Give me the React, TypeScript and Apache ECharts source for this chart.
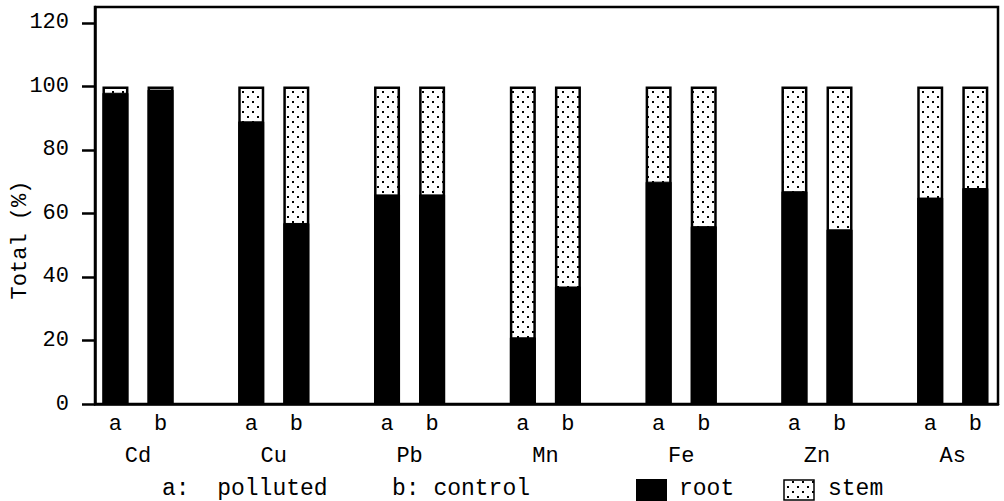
import React, { useEffect, useRef } from 'react';
import * as echarts from 'echarts';

const elements = ['Cd', 'Cu', 'Pb', 'Mn', 'Fe', 'Zn', 'As'];
const treatments = ['a', 'b'];
const rootPolluted = [98, 89, 66, 21, 70, 67, 65];
const rootControl = [99, 57, 66, 37, 56, 55, 68];
const stemPolluted = [2, 11, 34, 79, 30, 33, 35];
const stemControl = [1, 43, 34, 63, 44, 45, 32];
const yTicks = [0, 20, 40, 60, 80, 100, 120];

const FONT = "'Liberation Mono', 'Courier New', monospace";
const FS = 22;
const PAIR_OFFSET = 0.166;
const X_MIN = -0.3166;
const X_MAX = 6.333;

function makeDots(): string {
  const c = document.createElement('canvas');
  c.width = 10;
  c.height = 10;
  const ctx = c.getContext('2d')!;
  ctx.fillStyle = '#fff';
  ctx.fillRect(0, 0, 10, 10);
  ctx.fillStyle = '#000';
  ctx.fillRect(2, 1, 2, 2);
  ctx.fillRect(7, 6, 2, 2);
  return c.toDataURL();
}

export default function App() {
  const ref = useRef<HTMLDivElement>(null);
  useEffect(() => {
    if (!ref.current) return;
    const chart = echarts.init(ref.current, undefined, { renderer: 'svg' });
    const dots = { image: makeDots(), repeat: 'repeat', imageWidth: 10, imageHeight: 10 };

    const positions: number[] = [];
    const rootData: number[][] = [];
    const totalData: number[][] = [];
    elements.forEach((_, i) => {
      const xa = i - PAIR_OFFSET;
      const xb = i + PAIR_OFFSET;
      positions.push(xa, xb);
      rootData.push([xa, rootPolluted[i]], [xb, rootControl[i]]);
      // stem sits on top of root: drawn as the full root+stem bar behind the root bar
      totalData.push([xa, rootPolluted[i] + stemPolluted[i]], [xb, rootControl[i] + stemControl[i]]);
    });

    const option: any = {
      animation: false,
      backgroundColor: '#fff',
      grid: {
        left: 95, top: 7, right: 6, bottom: 97,
        show: true, borderColor: '#000', borderWidth: 2.5, backgroundColor: 'transparent',
      },
      xAxis: [
        {
          type: 'value', min: X_MIN, max: X_MAX, position: 'bottom',
          splitLine: { show: false },
          axisLine: { show: true, onZero: false, lineStyle: { color: '#000', width: 2.5 } },
          axisTick: { show: false },
          axisLabel: {
            customValues: positions,
            margin: 9,
            color: '#000', fontFamily: FONT, fontSize: FS,
            formatter: (v: number) => (v > Math.round(v) ? treatments[1] : treatments[0]),
          },
        },
        {
          type: 'value', min: X_MIN, max: X_MAX, position: 'bottom', offset: 34,
          splitLine: { show: false },
          axisLine: { show: false, onZero: false },
          axisTick: { show: false },
          axisLabel: {
            customValues: elements.map((_, i) => i),
            margin: 7,
            color: '#000', fontFamily: FONT, fontSize: FS,
            formatter: (v: number) => elements[Math.round(v)] ?? '',
          },
        },
      ],
      yAxis: {
        type: 'value', min: 0, max: 125,
        splitLine: { show: false },
        axisLine: { show: true, onZero: false, lineStyle: { color: '#000', width: 2.5 } },
        axisTick: { show: true, customValues: yTicks, length: 13, lineStyle: { color: '#000', width: 2.5 } },
        axisLabel: { customValues: yTicks, margin: 26, color: '#000', fontFamily: FONT, fontSize: FS },
      },
      series: [
        {
          name: 'stem', type: 'bar', barWidth: 26, barGap: '-100%',
          xAxisIndex: 0, z: 2,
          data: totalData,
          itemStyle: { color: dots, borderColor: '#000', borderWidth: 2.5 },
        },
        {
          name: 'root', type: 'bar', barWidth: 26, barGap: '-100%',
          xAxisIndex: 0, z: 3,
          data: rootData,
          itemStyle: { color: '#000', borderColor: '#000', borderWidth: 1 },
        },
      ],
      graphic: [
        {
          type: 'text', x: 20, y: 240, rotation: Math.PI / 2,
          style: { text: 'Total (%)', fill: '#000', font: `${FS}px ${FONT}`, align: 'center', verticalAlign: 'middle' },
        },
        {
          type: 'text', x: 162, y: 489,
          style: { text: 'a:  polluted', fill: '#000', font: `23px ${FONT}`, align: 'left', verticalAlign: 'middle' },
        },
        {
          type: 'text', x: 392, y: 489,
          style: { text: 'b: control', fill: '#000', font: `23px ${FONT}`, align: 'left', verticalAlign: 'middle' },
        },
        { type: 'rect', shape: { x: 636, y: 479, width: 31, height: 22 }, style: { fill: '#000' } },
        {
          type: 'text', x: 679, y: 489,
          style: { text: 'root', fill: '#000', font: `23px ${FONT}`, align: 'left', verticalAlign: 'middle' },
        },
        { type: 'rect', shape: { x: 784, y: 480, width: 30, height: 20 }, style: { fill: dots, stroke: '#000', lineWidth: 1.5 } },
        {
          type: 'text', x: 828, y: 489,
          style: { text: 'stem', fill: '#000', font: `23px ${FONT}`, align: 'left', verticalAlign: 'middle' },
        },
      ],
    };
    chart.setOption(option);
    return () => chart.dispose();
  }, []);
  return <div ref={ref} style={{ position: 'fixed', left: 0, top: 0, width: 1004, height: 501 }} />;
}
